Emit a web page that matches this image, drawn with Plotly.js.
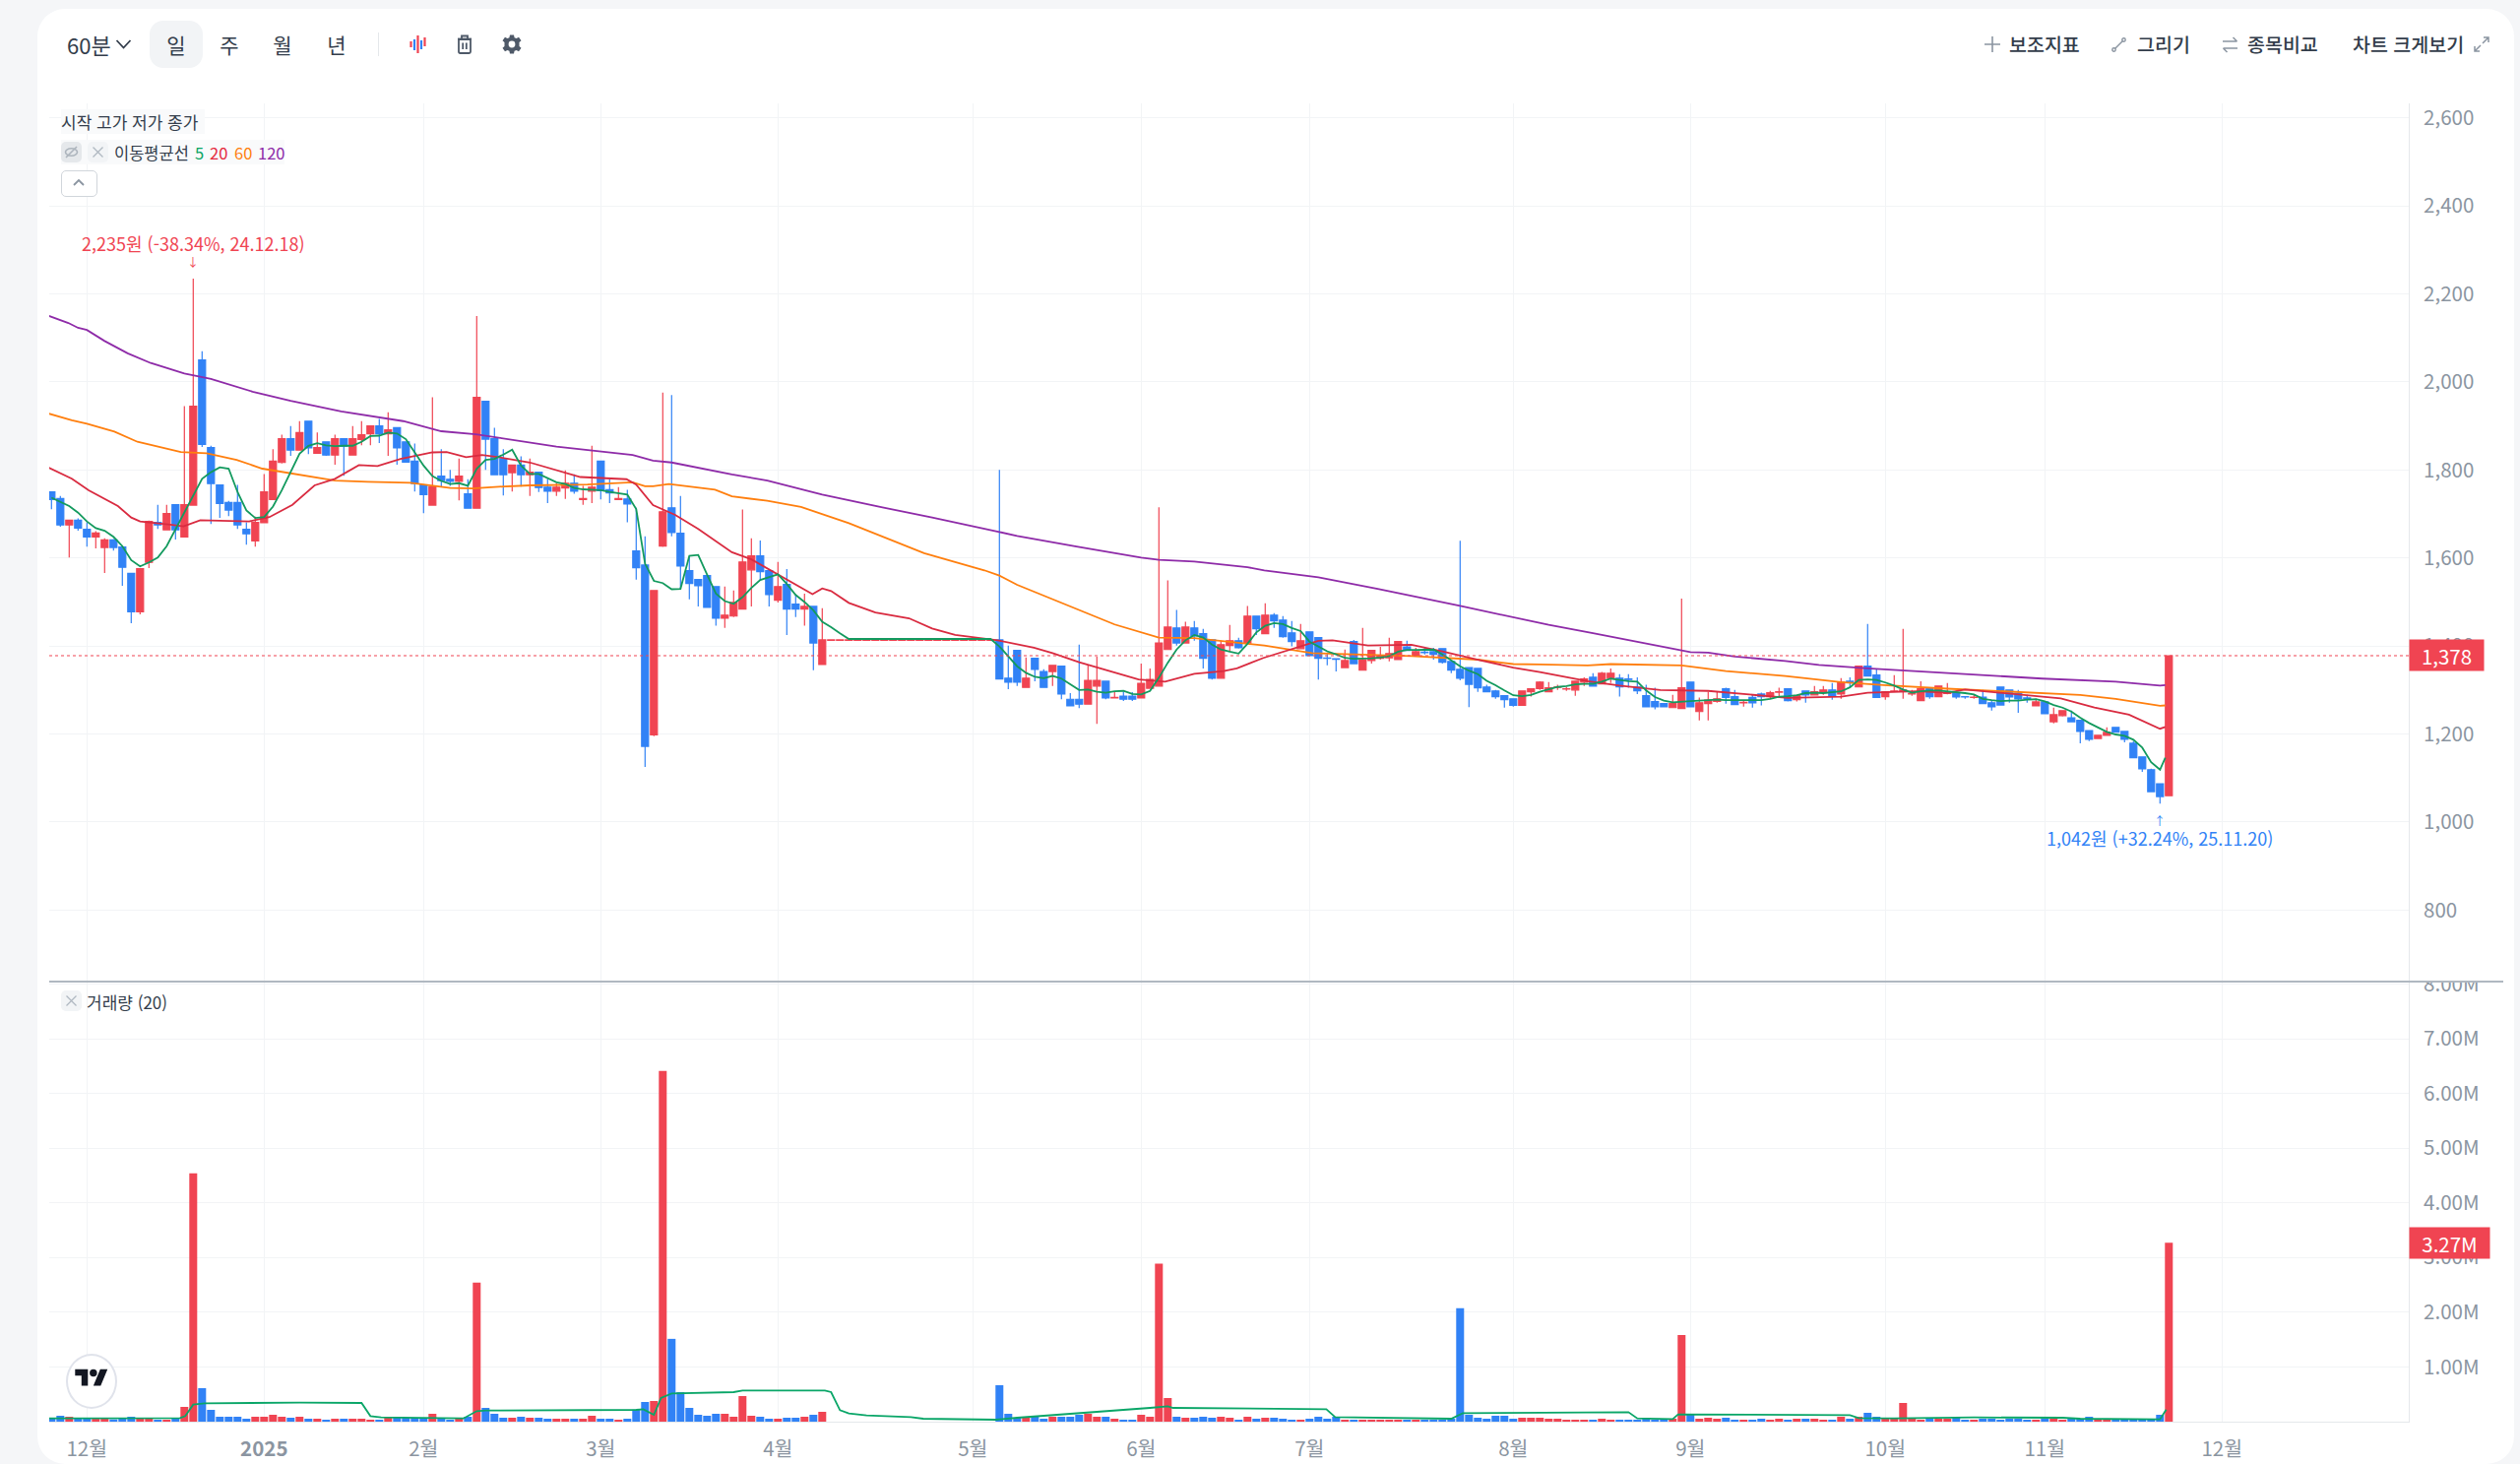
<!DOCTYPE html>
<html lang="ko">
<head>
<meta charset="utf-8">
<title>60분 차트</title>
<script src="https://cdn.plot.ly/plotly-3.0.1.min.js"></script>
<style>
html,body{margin:0;padding:0;width:2560px;height:1487px;overflow:hidden;background:#f5f6f8;font-family:"Noto Sans CJK KR","Noto Sans",sans-serif;color:#333d4b}
#card{position:absolute;left:38px;top:9px;width:2516px;height:1478px;background:#fff;border-radius:28px 28px 28px 28px}
#chart{position:absolute;left:0;top:0;width:2560px;height:1487px}
.t{position:absolute;white-space:nowrap;transform:translateY(-50%);line-height:1}
.c{transform:translate(-50%,-50%)}
.ov{position:absolute}
svg.ov{overflow:visible}
</style>
</head>
<body>
<div id="card"></div>
<div id="chart"></div>

<!-- toolbar left -->
<div class="ov" style="left:152px;top:21px;width:54px;height:48px;background:#f2f4f6;border-radius:14px"></div>
<div class="t" style="left:68px;top:45px;font-size:22px">60분</div>
<svg class="ov" style="left:117px;top:38px" width="17" height="14" viewBox="0 0 17 14"><path d="M1.5 3 L8.5 10.5 L15.5 3" fill="none" stroke="#333d4b" stroke-width="1.8"/></svg>
<div class="t c" style="left:179px;top:45px;font-size:21px">일</div>
<div class="t c" style="left:233px;top:45px;font-size:21px">주</div>
<div class="t c" style="left:287px;top:45px;font-size:21px">월</div>
<div class="t c" style="left:342px;top:45px;font-size:21px">년</div>
<div class="ov" style="left:384px;top:33px;width:1px;height:24px;background:#e5e8eb"></div>
<svg class="ov" style="left:416px;top:35px" width="18" height="20" viewBox="0 0 18 20"><g stroke-width="2.2" fill="none"><path d="M1.5 7V13" stroke="#f04452"/><path d="M5 5V16" stroke="#3182f6"/><path d="M8.5 1V19" stroke="#f04452"/><path d="M12 6V15" stroke="#3182f6"/><path d="M15.5 3V12" stroke="#f04452"/></g></svg>
<svg class="ov" style="left:463px;top:35px" width="18" height="20" viewBox="0 0 18 20"><g fill="none" stroke="#4e5968" stroke-width="1.8"><path d="M3 5H15V17.5Q15 19 13.5 19H4.5Q3 19 3 17.5Z"/><path d="M2 4.5H16"/><path d="M6 4V1.5H12V4"/><path d="M7.2 8.5V15M10.8 8.5V15"/></g></svg>
<svg class="ov" style="left:510px;top:35px" width="20" height="20" viewBox="0 0 20 20"><path fill="#4e5968" fill-rule="evenodd" d="M8 0.5H12L12.6 3.2L14.6 4.1L17 2.7L19.5 6.2L17.5 8L17.5 10L17.5 12L19.5 13.8L17 17.3L14.6 15.9L12.6 16.8L12 19.5H8L7.4 16.8L5.4 15.9L3 17.3L0.5 13.8L2.5 12L2.5 8L0.5 6.2L3 2.7L5.4 4.1L7.4 3.2ZM10 6.6A3.4 3.4 0 1 0 10 13.4A3.4 3.4 0 1 0 10 6.6Z"/></svg>

<!-- toolbar right -->
<svg class="ov" style="left:2016px;top:37px" width="16" height="16" viewBox="0 0 16 16"><path d="M8 0V16M0 8H16" stroke="#8b95a1" stroke-width="1.6"/></svg>
<div class="t" style="left:2041px;top:45px;font-size:19.5px;font-weight:500">보조지표</div>
<svg class="ov" style="left:2145px;top:38px" width="15" height="15" viewBox="0 0 15 15"><g fill="none" stroke="#8b95a1" stroke-width="1.4"><path d="M3.5 11.5L11.5 3.5"/><circle cx="2.5" cy="12.5" r="1.7"/><circle cx="12.5" cy="2.5" r="1.7"/></g></svg>
<div class="t" style="left:2171px;top:45px;font-size:19.5px;font-weight:500">그리기</div>
<svg class="ov" style="left:2257px;top:37px" width="17" height="17" viewBox="0 0 17 17"><g fill="none" stroke="#8b95a1" stroke-width="1.5"><path d="M1 5H15.5M11.5 1L15.5 5"/><path d="M16 12H1.5M5.5 16L1.5 12"/></g></svg>
<div class="t" style="left:2283px;top:45px;font-size:19.5px;font-weight:500">종목비교</div>
<div class="t" style="left:2390px;top:45px;font-size:19.5px;font-weight:500">차트 크게보기</div>
<svg class="ov" style="left:2513px;top:37px" width="16" height="16" viewBox="0 0 16 16"><g fill="none" stroke="#8b95a1" stroke-width="1.5"><path d="M9 7L15 1M10 1H15V6"/><path d="M7 9L1 15M6 15H1V10"/></g></svg>

<!-- price legend -->
<div class="ov" style="left:62px;top:111px;width:146px;height:25px;background:#f9fafb"></div>
<div class="t" style="left:62px;top:123px;font-size:17px">시작 고가 저가 종가</div>
<div class="ov" style="left:62px;top:142px;width:227px;height:25px;background:#f9fafb"></div>
<div class="ov" style="left:62px;top:144px;width:21px;height:21px;background:#e5e8eb;border-radius:5px"></div>
<svg class="ov" style="left:65px;top:147px" width="15" height="15" viewBox="0 0 15 15"><g fill="none" stroke="#adb5bd" stroke-width="1.6"><ellipse cx="7.5" cy="7.5" rx="6" ry="3.8"/><path d="M2 13L13 2"/></g></svg>
<div class="ov" style="left:89px;top:144px;width:21px;height:21px;background:#f2f4f6;border-radius:5px"></div>
<svg class="ov" style="left:94px;top:149px" width="11" height="11" viewBox="0 0 11 11"><path d="M0.5 0.5L10.5 10.5M10.5 0.5L0.5 10.5" stroke="#b0b8c1" stroke-width="1.3"/></svg>
<div class="t" style="left:116px;top:155px;font-size:16.5px">이동평균선</div>
<div class="t" style="left:198px;top:155px;font-size:16.5px;color:#0ca565">5</div>
<div class="t" style="left:213px;top:155px;font-size:16.5px;color:#e5293c">20</div>
<div class="t" style="left:238px;top:155px;font-size:16.5px;color:#ff7f0e">60</div>
<div class="t" style="left:262px;top:155px;font-size:16.5px;color:#8e2ba8">120</div>
<div class="ov" style="left:62px;top:173px;width:35px;height:25px;border:1px solid #d1d6db;border-radius:5px;background:#fff"></div>
<svg class="ov" style="left:74px;top:181px" width="12" height="9" viewBox="0 0 12 9"><path d="M1 7L6 2L11 7" fill="none" stroke="#8b95a1" stroke-width="1.8"/></svg>

<!-- separator clip for the top volume label -->
<div class="ov" style="left:2448px;top:984px;width:106px;height:12px;background:#fff"></div>

<!-- volume legend -->
<div class="ov" style="left:62px;top:1006px;width:21px;height:21px;background:#f2f4f6;border-radius:5px"></div>
<svg class="ov" style="left:67px;top:1011px" width="11" height="11" viewBox="0 0 11 11"><path d="M0.5 0.5L10.5 10.5M10.5 0.5L0.5 10.5" stroke="#b0b8c1" stroke-width="1.3"/></svg>
<div class="t" style="left:88px;top:1017px;font-size:17px">거래량 (20)</div>

<!-- logo -->
<div class="ov" style="left:67px;top:1375px;width:48px;height:52px;border:2px solid #e0e3eb;border-radius:50%;background:#fff"></div>
<svg class="ov" style="left:76px;top:1387px" width="34" height="26" viewBox="0 0 36 28"><path fill="#131722" d="M14 22H7V11H0V4h14v18zM28 22h-8l7.5-18h8L28 22z"/><circle fill="#131722" cx="20" cy="8" r="4"/></svg>

<script>
const opens = [1750,1735,1675,1686,1665,1648,1624,1641,1625,1565,1478,1590,1681,1664,1721,1648,1720,2050,1851,1766,1726,1726,1665,1639,1680,1733,1817,1871,1845,1911,1838,1864,1834,1871,1834,1869,1882,1900,1882,1896,1864,1820,1766,1720,1786,1779,1774,1746,1713,1956,1871,1826,1794,1811,1789,1795,1761,1752,1759,1770,1733,1752,1820,1755,1733,1734,1616,1584,1198,1627,1714,1656,1571,1551,1560,1535,1463,1468,1484,1573,1605,1571,1504,1540,1495,1484,1490,1358,
1413,1413,1413,1413,1413,1413,1413,1413,1413,1413,1413,1413,1413,1413,1413,1413,1413,1413,1413,
1414,1327,1390,1306,1372,1342,1342,1354,1279,1279,1268,1309,1320,1282,1286,1286,1282,1304,1309,1392,1441,1407,1441,1428,1414,1327,1401,1412,1407,1468,1428,1470,1459,1430,1394,1432,1419,1373,1371,1351,1410,1345,1367,1372,1373,1369,1398,1377,1386,1387,1394,1365,1347,1351,1349,1307,1298,1287,1280,1265,1296,1303,1296,1306,1302,1300,1318,1329,1314,1327,1327,1325,1307,1287,1274,1269,1260,1258,1318,1251,1269,1274,1303,1285,1271,1283,1291,1285,1295,1303,1278,1298,1289,1294,1300,1291,1320,1307,1354,1334,1285,1297,1299,1291,1276,1303,1285,1292,1294,1285,1283,1284,1271,1307,1300,1293,1282,1264,1273,1228,1242,1237,1231,1208,1190,1197,1215,1206,1179,1148,1119,1087,1060];
const highs = [1750,1741,1686,1690,1681,1661,1645,1643,1625,1565,1576,1685,1721,1721,1721,1945,2235,2070,1855,1766,1730,1766,1681,1694,1791,1847,1880,1900,1911,1911,1885,1864,1880,1871,1900,1911,1900,1916,1931,1896,1864,1860,1766,1965,1847,1800,1826,1779,2150,1956,1896,1847,1811,1831,1826,1795,1780,1770,1799,1790,1764,1855,1820,1779,1761,1755,1714,1649,1526,1976,1970,1741,1602,1551,1560,1535,1535,1526,1710,1645,1640,1571,1591,1575,1517,1519,1490,1486,
1414,1414,1414,1414,1414,1414,1414,1414,1414,1414,1414,1414,1414,1414,1414,1414,1414,1414,1414,
1800,1401,1390,1374,1372,1347,1356,1354,1293,1403,1358,1376,1320,1297,1297,1295,1360,1349,1715,1549,1482,1455,1457,1439,1414,1412,1448,1419,1491,1468,1497,1475,1468,1457,1450,1432,1419,1385,1371,1392,1414,1441,1390,1398,1419,1410,1412,1396,1398,1396,1394,1365,1639,1351,1349,1312,1300,1287,1280,1298,1303,1320,1318,1312,1307,1320,1329,1338,1341,1349,1336,1336,1329,1312,1305,1269,1289,1508,1318,1283,1296,1296,1305,1300,1275,1289,1294,1298,1305,1303,1289,1298,1309,1309,1316,1327,1329,1354,1450,1349,1296,1334,1439,1300,1320,1303,1309,1316,1294,1285,1291,1300,1275,1307,1300,1300,1289,1280,1273,1260,1253,1253,1231,1208,1197,1215,1215,1206,1184,1148,1121,1087,1378];
const lows = [1711,1671,1601,1662,1626,1622,1566,1617,1537,1452,1472,1577,1666,1664,1642,1648,1720,1852,1677,1691,1695,1666,1630,1626,1680,1733,1815,1832,1845,1836,1838,1832,1812,1787,1834,1856,1856,1861,1832,1812,1818,1751,1702,1720,1762,1764,1731,1713,1713,1800,1789,1742,1751,1762,1741,1750,1725,1741,1734,1746,1721,1725,1733,1725,1733,1681,1551,1125,1195,1625,1649,1530,1506,1490,1488,1446,1441,1466,1484,1490,1549,1490,1499,1425,1466,1446,1345,1358,
1413,1413,1413,1413,1413,1413,1413,1413,1413,1413,1413,1413,1413,1413,1413,1413,1413,1413,1413,
1325,1302,1309,1306,1320,1306,1309,1279,1264,1259,1268,1223,1279,1282,1275,1275,1282,1304,1309,1392,1401,1407,1412,1349,1324,1327,1387,1394,1407,1425,1428,1441,1419,1399,1394,1378,1324,1356,1342,1351,1360,1345,1360,1369,1365,1369,1390,1377,1381,1369,1360,1338,1322,1261,1296,1296,1280,1260,1262,1265,1285,1300,1296,1300,1298,1287,1309,1309,1314,1316,1285,1305,1291,1262,1256,1262,1260,1258,1262,1231,1231,1271,1269,1267,1262,1260,1265,1280,1283,1274,1274,1271,1289,1289,1278,1280,1307,1307,1332,1283,1278,1296,1280,1287,1276,1280,1285,1290,1280,1280,1280,1269,1253,1266,1271,1248,1271,1264,1246,1224,1240,1228,1179,1184,1190,1197,1204,1181,1146,1114,1069,1042,1060];
const closes = [1733,1675,1686,1668,1648,1657,1641,1624,1579,1478,1576,1683,1675,1701,1664,1721,1945,1858,1769,1724,1709,1675,1655,1681,1750,1820,1871,1845,1885,1850,1851,1834,1871,1854,1871,1880,1900,1882,1891,1850,1818,1769,1744,1762,1776,1774,1786,1713,1965,1870,1789,1789,1811,1789,1795,1760,1752,1761,1770,1752,1735,1761,1753,1748,1735,1723,1578,1172,1526,1705,1658,1582,1542,1537,1488,1463,1470,1499,1591,1605,1569,1517,1535,1484,1484,1490,1407,1414,
1414,1414,1414,1414,1414,1414,1414,1414,1414,1414,1414,1414,1414,1414,1414,1414,1414,1414,1414,
1325,1318,1318,1327,1347,1306,1356,1291,1264,1268,1322,1322,1282,1283,1279,1279,1315,1324,1407,1443,1407,1443,1423,1372,1327,1403,1412,1396,1468,1439,1470,1457,1421,1410,1412,1378,1372,1372,1370,1367,1360,1369,1390,1378,1383,1410,1390,1387,1385,1381,1363,1345,1327,1313,1305,1296,1285,1278,1265,1298,1303,1318,1305,1307,1303,1320,1325,1309,1338,1338,1307,1324,1298,1262,1262,1262,1269,1305,1262,1271,1277,1280,1283,1267,1272,1271,1285,1294,1296,1276,1287,1289,1296,1300,1287,1318,1319,1354,1332,1283,1296,1298,1300,1292,1303,1285,1309,1293,1284,1284,1284,1269,1262,1266,1284,1280,1281,1273,1246,1244,1253,1228,1206,1188,1197,1204,1204,1188,1146,1121,1069,1058,1378];
const volumesK = [60,108,90,72,72,72,72,42,72,90,72,72,36,36,72,270,4540,613,216,90,90,90,54,90,90,126,90,72,90,54,54,36,54,54,54,54,36,36,72,72,72,72,72,144,72,36,54,90,2540,252,144,72,72,90,72,72,54,54,54,54,54,108,54,54,36,54,220,360,378,6410,1514,540,252,126,108,144,144,90,468,108,90,54,54,72,72,90,126,180,
0,0,0,0,0,0,0,0,0,0,0,0,0,0,0,0,0,0,0,
667,144,72,90,108,54,90,90,90,126,144,90,90,54,36,36,126,90,2890,432,90,72,72,90,72,90,72,36,90,54,72,72,54,36,36,54,90,54,90,36,36,36,36,36,36,36,36,36,36,36,36,54,2072,126,72,54,108,108,54,72,72,72,54,54,36,36,36,36,54,36,36,36,36,54,36,54,54,1586,126,54,72,54,72,36,36,36,54,36,54,36,54,54,54,36,36,90,54,90,162,90,54,54,342,54,36,72,54,54,72,36,36,54,54,36,54,54,36,36,54,54,36,54,54,90,36,36,36,36,36,36,36,126,3270];

const ma5 = [1737,1728,1718,1703,1683,1668,1662,1648,1627,1595,1581,1590,1601,1627,1665,1702,1739,1780,1795,1806,1803,1750,1708,1691,1693,1717,1754,1795,1837,1855,1861,1856,1854,1855,1855,1864,1877,1878,1885,1883,1870,1840,1810,1786,1775,1768,1770,1764,1803,1823,1825,1835,1846,1810,1791,1791,1781,1772,1768,1759,1756,1755,1754,1750,1747,1744,1711,1587,1548,1543,1529,1530,1605,1607,1562,1519,1502,1496,1511,1532,1550,1557,1563,1541,1516,1500,1481,1455,1443,1429,1416,
1416,1416,1416,1416,1416,1416,1416,1416,1416,1416,1416,1416,1416,1416,1416,1416,
1399,1377,1354,1339,1330,1327,1332,1326,1313,1300,1301,1296,1294,1297,1298,1291,1290,1298,1328,1362,1392,1413,1425,1419,1403,1392,1387,1383,1405,1431,1446,1452,1450,1441,1434,1410,1399,1388,1381,1373,1371,1371,1372,1374,1377,1387,1391,1391,1392,1392,1381,1368,1354,1344,1336,1321,1311,1299,1288,1286,1289,1296,1302,1307,1309,1313,1314,1314,1319,1326,1323,1320,1319,1299,1284,1276,1272,1274,1275,1276,1277,1278,1277,1277,1277,1277,1277,1280,1285,1286,1288,1293,1294,1293,1295,1297,1306,1323,1324,1323,1317,1310,1301,1294,1297,1299,1299,1297,1296,1293,1290,1280,1277,1275,1276,1276,1278,1279,1274,1266,1260,1251,1237,1225,1215,1205,1199,1196,1187,1169,1136,1119,1146];
const ma20x = [-1,2.3,4.2,7.5,9,10,13.4,14.9,16.8,22.3,24.6,27.2,29.7,32,34.7,36.8,39.4,43,44.6,46.8,48.6,50.5,54,56.8,59.7,64.9,66,67.9,69,70.4,73,76.8,79,82,85.9,87,88,90,93,96.8,99.4,102,106.8,110.9,113,116,122.7,125.7,129,132.3,133.8,136.8,140.5,143,144.6,148.6,153.5,157,161,165,168,173.4,177,181.6,187,192,196,202,205,210.5,214,216,224.7,226.8,230.6,234.5,238,238.6];
const ma20 = [1812,1780,1754,1718,1692,1683,1676,1672,1686,1683,1693,1721,1765,1780,1811,1809,1825,1840,1841,1829,1834,1829,1817,1801,1784,1779,1767,1720,1711,1698,1666,1613,1597,1563,1518,1531,1525,1498,1476,1463,1440,1425,1413,1396,1384,1363,1324,1319,1337,1343,1349,1373,1396,1412,1413,1401,1403,1388,1369,1351,1341,1320,1310,1300,1298,1289,1282,1285,1294,1297,1294,1301,1286,1281,1260,1244,1212,1216];
const ma60x = [-1,2.3,4,7.1,9.7,14.6,17.5,20.9,23.8,28.3,32,35.7,40.5,45,47.5,50.5,54,60.5,65.6,67,67.9,69.7,74.9,76.8,80.8,84.6,90,98.5,105.3,107,109,120,125,129,136.9,142.3,146,153.5,161,165,168,173.4,176,184,189,195.7,202,206.8,214,224.7,229,233,238,238.6];
const ma60 = [1932,1913,1905,1887,1864,1841,1838,1823,1803,1788,1776,1773,1771,1759,1758,1762,1765,1767,1772,1763,1763,1768,1755,1740,1730,1716,1679,1611,1572,1560,1539,1449,1419,1418,1401,1384,1382,1377,1369,1359,1358,1356,1359,1356,1343,1332,1318,1311,1303,1293,1289,1280,1264,1265];
const ma120x = [-1,1.9,3,4,6,8.6,11.2,13,15,18,22.7,27,32.7,39.7,44,47.9,54,57,65.6,67.9,70,76.8,80.8,87,93.8,99.4,107,109,115.7,123,125,129,135,136.9,143,149.7,159,165,169,174,183,185,187,190,195.7,199.5,205,214,224.7,233,238,238.6];
const ma120 = [2155,2134,2123,2118,2093,2065,2043,2032,2019,2007,1978,1957,1933,1911,1888,1881,1863,1853,1834,1821,1817,1790,1776,1744,1715,1692,1659,1650,1626,1601,1596,1592,1579,1572,1556,1530,1491,1466,1448,1429,1393,1386,1385,1376,1366,1357,1349,1339,1326,1319,1310,1311];
const volMaX = [-1,14.5,15.1,16,17.3,28,35,36,37.2,46.5,48,49,66,66.8,68,68.8,70,77,78,87.3,88,89,90,92,97,98.4,106.6,109,124,126,126.6,134,143.9,144.9,158,159.3,178,179,183,183.6,202,203,204,208,217,227,229,238,238.7];
const volMaK = [60,66,102,312,336,348,342,102,78,60,192,204,216,228,126,432,516,540,570,570,540,210,150,114,84,54,36,72,252,282,252,240,228,84,54,156,174,60,48,132,132,120,66,60,78,72,54,42,222];

const monthTickIdx = [4,24,42,62,82,104,123,142,165,185,207,225,245];
const monthTickText = ['12월','<b>2025</b>','2월','3월','4월','5월','6월','7월','8월','9월','10월','11월','12월'];
const priceTicks = [800,1000,1200,1400,1600,1800,2000,2200,2400,2600];
const volumeTicksM = [1,2,3,4,5,6,7,8];
const lastPrice = 1378, lastVolumeM = 3.27;
const highIdx = 16, highPrice = 2235, lowIdx = 238, lowPrice = 1042;

const RED = '#f04452', BLUE = '#3182f6', FONT = '"Noto Sans CJK KR","Noto Sans",sans-serif';
const idx = opens.map((_, i) => i);
const ma5x = idx.map(i => i === 239 ? 238.6 : i);
const volColors = idx.map(i => closes[i] >= opens[i] ? RED : BLUE);

const ma = (x, y, color, name) => ({type:'scatter', mode:'lines', x, y, name, line:{color, width:1.8}, hoverinfo:'skip'});

const traces = [
  {type:'candlestick', x:idx, open:opens, high:highs, low:lows, close:closes,
   increasing:{line:{color:RED,width:1.2}, fillcolor:RED},
   decreasing:{line:{color:BLUE,width:1.2}, fillcolor:BLUE},
   whiskerwidth:0, hoverinfo:'skip', name:'가격'},
  ma(ma120x, ma120, '#8e2ba8', '120'),
  ma(ma60x, ma60, '#ff7f0e', '60'),
  ma(ma20x, ma20, '#d92b40', '20'),
  ma(ma5x, ma5, '#139a5e', '5'),
  {type:'bar', x:idx, y:volumesK.map(v => v*1000), yaxis:'y2', marker:{color:volColors, line:{width:0}}, hoverinfo:'skip', name:'거래량'},
  {type:'scatter', mode:'lines', x:volMaX, y:volMaK.map(v => v*1000), yaxis:'y2', line:{color:'#0aa668', width:1.8}, hoverinfo:'skip', name:'거래량 20'}
];

const tickFont = {family:FONT, size:20.5, color:'#8b95a1'};
const split = (1444-997)/1339;
const annFont = (c,s) => ({family:FONT, size:s, color:c});
const fmtM = v => v.toFixed(2)+'M';
const layout = {
  width:2560, height:1487, autosize:false,
  paper_bgcolor:'rgba(0,0,0,0)', plot_bgcolor:'rgba(0,0,0,0)',
  margin:{l:50, r:113, t:105, b:43, pad:0},
  showlegend:false, dragmode:false, hovermode:false,
  boxgap:0.22, boxgroupgap:0, bargap:0.11,
  xaxis:{type:'linear', range:[-0.256,266.08], anchor:'y2', tickmode:'array', tickvals:monthTickIdx, ticktext:monthTickText,
    tickfont:tickFont, ticks:'outside', ticklen:9, tickcolor:'rgba(0,0,0,0)', showgrid:true, gridcolor:'#f2f4f6', gridwidth:1,
    showline:true, linecolor:'#e5e8eb', linewidth:1, zeroline:false, rangeslider:{visible:false}, fixedrange:true},
  yaxis:{domain:[split,1], range:[637.5,2633], side:'right', anchor:'x', tickmode:'array', tickvals:priceTicks, tickformat:',d', tickfont:tickFont,
    ticks:'outside', ticklen:10, tickcolor:'rgba(0,0,0,0)', showgrid:true, gridcolor:'#f2f4f6', gridwidth:1, showline:true, linecolor:'#e5e8eb', linewidth:1, zeroline:false, fixedrange:true},
  yaxis2:{domain:[0,split], range:[0,8045000], side:'right', anchor:'x', tickmode:'array', tickvals:volumeTicksM.map(v=>v*1e6), ticktext:volumeTicksM.map(fmtM), tickfont:tickFont,
    ticks:'outside', ticklen:10, tickcolor:'rgba(0,0,0,0)', showgrid:true, gridcolor:'#f2f4f6', gridwidth:1, showline:true, linecolor:'#e5e8eb', linewidth:1, zeroline:false, fixedrange:true},
  shapes:[
    {type:'line', xref:'paper', yref:'y', x0:0, x1:1, y0:lastPrice, y1:lastPrice, line:{color:RED, width:1, dash:'dot'}, layer:'above'},
    {type:'line', xref:'paper', yref:'paper', x0:0, x1:(2543-50)/2397, y0:split, y1:split, line:{color:'#b0b8c1', width:2}, layer:'above'}
  ],
  annotations:[
    {xref:'x', yref:'y', x:highIdx, y:highPrice, yshift:36, showarrow:false, text:'2,235원 (-38.34%, 24.12.18)', font:annFont(RED,18)},
    {xref:'x', yref:'y', x:highIdx, y:highPrice, yshift:17, showarrow:false, text:'↓', font:annFont(RED,12)},
    {xref:'x', yref:'y', x:lowIdx, y:lowPrice, yshift:-35, showarrow:false, text:'1,042원 (+32.24%, 25.11.20)', font:annFont(BLUE,18)},
    {xref:'x', yref:'y', x:lowIdx, y:lowPrice, yshift:-17, showarrow:false, text:'↑', font:annFont(BLUE,12)},
    {xref:'paper', yref:'y', x:1, xanchor:'left', y:lastPrice, showarrow:false, text:'1,378', font:annFont('#ffffff',20.5), bgcolor:RED, width:75, height:31, align:'center', borderpad:0},
    {xref:'paper', yref:'y2', x:1, xanchor:'left', y:lastVolumeM*1e6, showarrow:false, text:'3.27M', font:annFont('#ffffff',20.5), bgcolor:RED, width:81, height:31, align:'center', borderpad:0}
  ]
};
Plotly.newPlot('chart', traces, layout, {displayModeBar:false, staticPlot:true});
</script>
</body>
</html>
